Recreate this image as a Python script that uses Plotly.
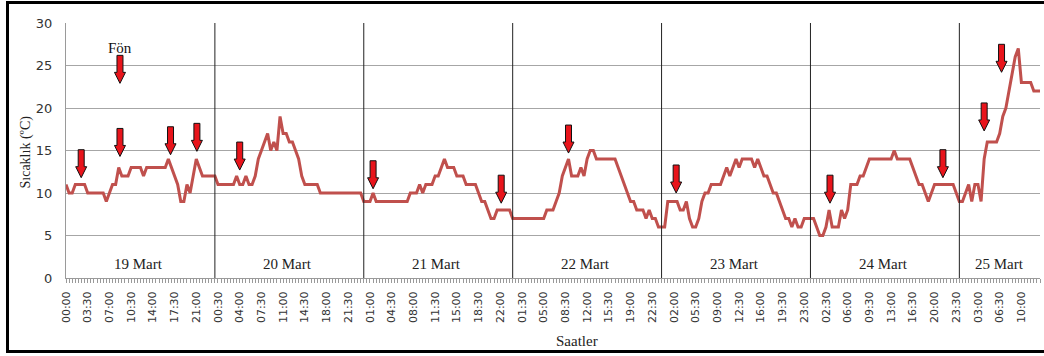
import plotly.graph_objects as go

# Half-hourly air temperature (°C), one list per day
mart_19 = [11, 10, 10, 11, 11, 11, 11, 10, 10, 10, 10, 10, 10, 9, 10, 11,
           11, 13, 12, 12, 12, 13, 13, 13, 13, 12, 13, 13, 13, 13, 13, 13,
           13, 14, 13, 12, 11, 9, 9, 11, 10, 12, 14, 13, 12, 12, 12, 12]
mart_20 = [12, 11, 11, 11, 11, 11, 11, 12, 11, 11, 12, 11, 11, 12, 14, 15,
           16, 17, 15, 16, 15, 19, 17, 17, 16, 16, 15, 14, 12, 11, 11, 11,
           11, 11, 10, 10, 10, 10, 10, 10, 10, 10, 10, 10, 10, 10, 10, 10]
mart_21 = [9, 9, 9, 10, 9, 9, 9, 9, 9, 9, 9, 9, 9, 9, 9, 10,
           10, 10, 11, 10, 11, 11, 11, 12, 12, 13, 14, 13, 13, 13, 12, 12,
           12, 11, 11, 11, 11, 10, 9, 9, 8, 7, 7, 8, 8, 8, 8, 8]
mart_22 = [7, 7, 7, 7, 7, 7, 7, 7, 7, 7, 7, 8, 8, 8, 9, 10,
           12, 13, 14, 12, 12, 12, 13, 12, 14, 15, 15, 14, 14, 14, 14, 14,
           14, 14, 13, 12, 11, 10, 9, 9, 8, 8, 8, 7, 8, 7, 7, 6]
mart_23 = [6, 6, 9, 9, 9, 9, 8, 8, 9, 7, 6, 6, 7, 9, 10, 10,
           11, 11, 11, 11, 12, 13, 12, 13, 14, 13, 14, 14, 14, 14, 13, 14,
           13, 12, 12, 11, 10, 10, 9, 8, 7, 7, 6, 7, 6, 6, 7, 7]
mart_24 = [7, 7, 6, 5, 5, 6, 8, 6, 6, 6, 8, 7, 8, 11, 11, 11,
           12, 12, 13, 14, 14, 14, 14, 14, 14, 14, 14, 15, 14, 14, 14, 14,
           14, 13, 12, 11, 11, 10, 9, 10, 11, 11, 11, 11, 11, 11, 11, 10]
mart_25 = [9, 9, 10, 11, 9, 11, 11, 9, 14, 16, 16, 16, 16, 17, 19, 20,
           22, 24, 26, 27, 23, 23, 23, 23, 22, 22, 22]

day_names = ["19 Mart", "20 Mart", "21 Mart", "22 Mart", "23 Mart", "24 Mart", "25 Mart"]
day_series = [mart_19, mart_20, mart_21, mart_22, mart_23, mart_24, mart_25]

# Hour labels shown on every 7th half-hour reading
tick_labels = ["00:00", "03:30", "07:00", "10:30", "14:00", "17:30", "21:00",
               "00:30", "04:00", "07:30", "11:00", "14:30", "18:00", "21:30",
               "01:00", "04:30", "08:00", "11:30", "15:00", "18:30", "22:00",
               "01:30", "05:00", "08:30", "12:00", "15:30", "19:00", "22:30",
               "02:00", "05:30", "09:00", "12:30", "16:00", "19:30", "23:00",
               "02:30", "06:00", "09:30", "13:00", "16:30", "20:00", "23:30",
               "03:00", "06:30", "10:00"]
tick_step = 7

# Föhn events: reading index and temperature level of each arrow tip
arrow_at = [4.9, 17.4, 17.4, 33.7, 42.2, 56.0, 99.0, 140.3, 162.0, 196.7, 246.3, 282.7, 296.0, 301.6]
arrow_tip = [11.8, 22.9, 14.3, 14.5, 14.9, 12.7, 10.5, 8.8, 14.7, 10.0, 8.8, 11.8, 17.3, 24.2]

temps = [v for day in day_series for v in day]
idx = list(range(len(temps)))

# Plot-area geometry (pixels)
W, H = 1044, 356
ML, MR, MT, MB = 66, 4, 23, 78
PW, PH = W - ML - MR, H - MT - MB


def px_x(p):
    return (p - ML) / PW


def px_y(p):
    return (H - MB - p) / PH


serif = "Liberation Serif"
sans = "DejaVu Sans"

fig = go.Figure()
fig.add_trace(go.Scatter(
    x=idx, y=temps, mode="lines",
    line=dict(color="#c0504d", width=3),
    hoverinfo="skip", showlegend=False,
))

shapes = []
annotations = []

# Day boundaries and day names
start = 0
for name, day in zip(day_names, day_series):
    if start > 0:
        shapes.append(dict(type="line", xref="x", yref="paper", x0=start, x1=start,
                           y0=0, y1=1, line=dict(color="#222222", width=1)))
    end = start + len(day) - 1
    annotations.append(dict(xref="x", yref="y", x=(start + end) / 2, y=1.7,
                            xanchor="center", yanchor="middle",
                            text=name, showarrow=False,
                            font=dict(family=serif, size=15, color="#222222")))
    start += len(day)

# Block arrows marking Föhn events
arrow_path = "M0,0 L-5.5,11 L-3,11 L-3,28 L3,28 L3,11 L5.5,11 Z"
for xa, ya in zip(arrow_at, arrow_tip):
    shapes.append(dict(type="path", xref="x", yref="y",
                       xsizemode="pixel", ysizemode="pixel",
                       xanchor=xa, yanchor=ya, path=arrow_path,
                       fillcolor="#e8141b", line=dict(color="#111111", width=1)))

annotations.append(dict(xref="x", yref="y", x=arrow_at[1], y=27.05, text="Fön",
                        xanchor="center", yanchor="middle", showarrow=False,
                        font=dict(family=serif, size=15, color="#111111")))

# Axis titles
annotations.append(dict(xref="paper", yref="paper", x=px_x(25), y=px_y(152.5),
                        xanchor="center", yanchor="middle",
                        text="Sıcaklık (ºC)", textangle=-90, showarrow=False,
                        font=dict(family=serif, size=14, color="#222222")))
annotations.append(dict(xref="paper", yref="paper", x=px_x(577), y=px_y(340.7),
                        xanchor="center", yanchor="middle",
                        text="Saatler", showarrow=False,
                        font=dict(family=serif, size=15, color="#222222")))

# Outer frame
shapes.append(dict(type="rect", xref="paper", yref="paper",
                   x0=px_x(7.5), x1=px_x(1048), y0=px_y(351.5), y1=px_y(2.5),
                   line=dict(color="#000000", width=3), fillcolor="rgba(0,0,0,0)",
                   layer="above"))

fig.update_layout(
    width=W, height=H,
    margin=dict(l=ML, r=MR, t=MT, b=MB),
    paper_bgcolor="white", plot_bgcolor="white",
    showlegend=False,
    shapes=shapes, annotations=annotations,
    xaxis=dict(
        range=[0, len(temps) - 1],
        tickmode="array",
        tickvals=idx[::tick_step],
        ticktext=tick_labels,
        tickangle=-90,
        tickfont=dict(family=sans, size=11, color="#333333"),
        ticks="outside", ticklen=4, tickcolor="#9a9a9a", tickwidth=1,
        minor=dict(tick0=0, dtick=1, ticks="outside", ticklen=4,
                   tickcolor="#9a9a9a", tickwidth=1, showgrid=False),
        showline=True, linecolor="#9a9a9a", linewidth=1,
        showgrid=False, zeroline=False,
        ticklabelstandoff=4,
    ),
    yaxis=dict(
        range=[0, 30],
        tickvals=[0, 5, 10, 15, 20, 25, 30],
        tickfont=dict(family=sans, size=13, color="#333333"),
        showgrid=True, gridcolor="#a6a6a6", gridwidth=1,
        showline=True, linecolor="#9a9a9a", linewidth=1,
        ticks="", zeroline=False,
        ticklabelstandoff=10,
    ),
)

fig.write_html("out.html")
